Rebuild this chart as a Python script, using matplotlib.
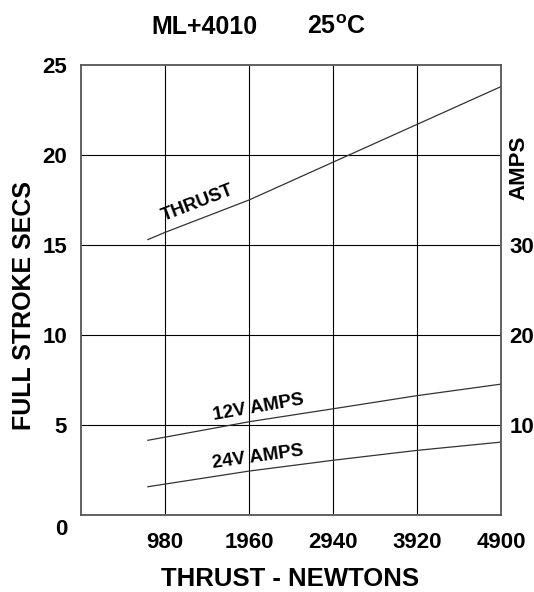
import matplotlib
matplotlib.use("Agg")
import matplotlib.pyplot as plt
from matplotlib.transforms import ScaledTranslation

plt.rcParams['font.family'] = ['Liberation Sans', 'DejaVu Sans']

thrust_n = [780, 980, 1960, 2940, 3920, 4900]
thrust_secs = [15.3, 15.7, 17.5, 19.6, 21.7, 23.8]
amps12_x = [780, 1960, 2940, 3920, 4900]
amps12 = [4.15, 5.18, 5.9, 6.63, 7.27]  # plotted on left scale (AMPS/2)
amps24 = [1.57, 2.44, 3.04, 3.59, 4.05]
xticks = [980, 1960, 2940, 3920, 4900]
yticks = [0, 5, 10, 15, 20, 25]
amp_ticks = [10, 20, 30]

W, H = 534, 592
fig = plt.figure(figsize=(W / 100, H / 100), dpi=100)
ax = fig.add_axes([81 / W, 77 / H, 420 / W, 450 / H])
ax.set_xlim(0, 4900)
ax.set_ylim(0, 25)

for v in xticks[:-1]:
    ax.axvline(v, color='black', lw=0.8, zorder=1)
for v in yticks[1:-1]:
    ax.axhline(v, color='black', lw=0.8, zorder=1)

lc = '#333333'
ax.plot(thrust_n, thrust_secs, color=lc, lw=0.9, zorder=2)
ax.plot(amps12_x, amps12, color=lc, lw=0.9, zorder=2)
ax.plot(amps12_x, amps24, color=lc, lw=0.9, zorder=2)

for s in ax.spines.values():
    s.set_color('#555555')
    s.set_linewidth(1.3)

ax.set_xticks(xticks)
ax.set_xticklabels([str(v) for v in xticks], fontsize=16, fontweight='bold')
ax.set_yticks(yticks)
ax.set_yticklabels([str(v) for v in yticks], fontsize=16, fontweight='bold')
ax.tick_params(length=0, pad=10)
ax.tick_params(axis='x', pad=12)
zero = ax.get_yticklabels()[0]
zero.set_va('top')
zero.set_transform(zero.get_transform() + ScaledTranslation(0, -4 / 100, fig.dpi_scale_trans))

ax2 = ax.twinx()
ax2.set_ylim(0, 50)
ax2.set_yticks(amp_ticks)
ax2.set_yticklabels([str(v) for v in amp_ticks], fontsize=16, fontweight='bold')
ax2.tick_params(length=0, pad=6)
for s in ax2.spines.values():
    s.set_visible(False)

fig.text(519 / W, 1 - 168 / H, 'AMPS', fontsize=16, fontweight='bold',
         rotation=90, ha='center', va='center')
fig.text(290 / W, 1 - 579 / H, 'THRUST - NEWTONS', fontsize=18.5, fontweight='bold',
         ha='center', va='center')
fig.text(24 / W, 1 - 306 / H, 'FULL STROKE SECS', fontsize=18, fontweight='bold',
         rotation=90, ha='center', va='center')

ax.text(1365, 17.3, 'THRUST', rotation=21, fontsize=13.5, fontweight='bold',
        ha='center', va='center', rotation_mode='anchor')
ax.text(2065, 5.95, '12V AMPS', rotation=10, fontsize=13.5, fontweight='bold',
        ha='center', va='center', rotation_mode='anchor')
ax.text(2065, 3.2, '24V AMPS', rotation=8, fontsize=13.5, fontweight='bold',
        ha='center', va='center', rotation_mode='anchor')

fig.text(204 / W, 1 - 27 / H, 'ML+4010', fontsize=18, fontweight='bold',
         ha='center', va='center')
fig.text(336 / W, 1 - 27 / H, '25$^{\\mathregular{o}}$C', fontsize=18, fontweight='bold',
         ha='center', va='center')

fig.savefig('out.png', dpi=100)
